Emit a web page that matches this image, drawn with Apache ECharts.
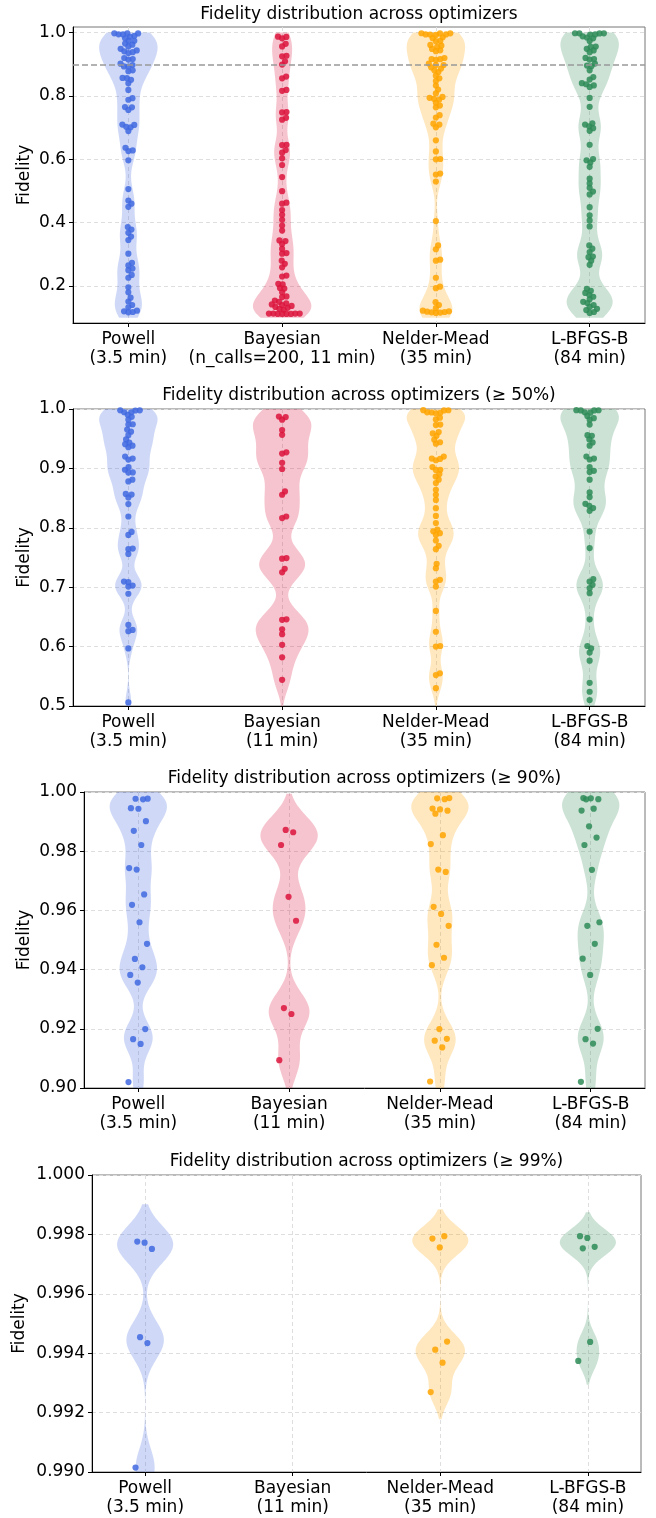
<!DOCTYPE html>
<html lang="en">
<head>
<meta charset="UTF-8">
<title>Fidelity distribution across optimizers</title>
<script src="https://cdn.jsdelivr.net/npm/echarts@6.0.0/dist/echarts.min.js"></script>
<style>
  html, body { margin: 0; padding: 0; background: #fff; }
  #chart { width: 656px; height: 1518px; }
</style>
</head>
<body>
<div id="chart"></div>
<script>
// ---- data ----
var optimizers = ['Powell', 'Bayesian', 'Nelder-Mead', 'L-BFGS-B'];
var runtimesFull = ['(3.5 min)', '(n_calls=200, 11 min)', '(35 min)', '(84 min)'];
var runtimesShort = ['(3.5 min)', '(11 min)', '(35 min)', '(84 min)'];

var powell = [
    0.99776, 0.99772, 0.99751, 0.99454, 0.99434, 0.99015, 0.9869, 0.9821, 0.9743, 0.9738, 0.9654,
    0.9619, 0.9560, 0.9487, 0.9436, 0.9408, 0.9382, 0.9356, 0.9199, 0.9165, 0.9149, 0.9020,
    0.8977, 0.8932, 0.8930, 0.881, 0.878, 0.857, 0.856, 0.851, 0.840, 0.819, 0.793, 0.788,
    0.765, 0.764, 0.756, 0.7095, 0.7085, 0.7027, 0.701, 0.689, 0.6365, 0.628, 0.626, 0.597, 0.506,
    0.470, 0.460, 0.450, 0.386, 0.378, 0.368, 0.356, 0.345, 0.302, 0.273, 0.265, 0.255, 0.250,
    0.235, 0.226, 0.196, 0.180, 0.163, 0.151, 0.140, 0.133, 0.122, 0.120, 0.118, 0.117
];
var bayesian = [
    0.9872, 0.9864, 0.9821, 0.9646, 0.9565, 0.9270, 0.9250, 0.9094,
    0.899, 0.8612, 0.8556, 0.819, 0.8163, 0.749, 0.748, 0.731, 0.725, 0.646, 0.645, 0.629,
    0.621, 0.603, 0.582, 0.544,
    0.4995, 0.463, 0.460, 0.440, 0.425, 0.409, 0.391, 0.375, 0.344, 0.342, 0.333, 0.317, 0.304,
    0.302, 0.280, 0.270, 0.259, 0.233, 0.230, 0.207, 0.205, 0.194, 0.192, 0.180, 0.167, 0.165,
    0.154, 0.150, 0.145, 0.142, 0.140, 0.137, 0.134, 0.131, 0.128, 0.125,
    0.113, 0.113, 0.112, 0.112, 0.112, 0.113, 0.112, 0.113
];
var nelderMead = [
    0.99794, 0.99786, 0.99756, 0.99439, 0.99412, 0.99368, 0.99269, 0.9854, 0.9824, 0.9738, 0.9730,
    0.9612, 0.9588, 0.9548, 0.9484, 0.9440, 0.9415, 0.9199, 0.9166, 0.9160, 0.9137, 0.9022,
    0.8977, 0.8975, 0.8904, 0.8864, 0.881, 0.8753, 0.864, 0.8556, 0.847, 0.833, 0.820, 0.808,
    0.797, 0.794, 0.791, 0.788, 0.7786, 0.7697, 0.764, 0.7393, 0.732, 0.7124, 0.7095, 0.701,
    0.660, 0.625, 0.601, 0.600, 0.555, 0.552, 0.530,
    0.405, 0.328, 0.316, 0.283, 0.280, 0.226, 0.198, 0.193, 0.149, 0.140, 0.130,
    0.122, 0.120, 0.118, 0.117, 0.116, 0.115, 0.119
];
var lbfgsb = [
    0.99794, 0.99788, 0.99758, 0.99753, 0.99438, 0.99374, 0.9884, 0.9846, 0.9821, 0.9737,
    0.9560, 0.9548, 0.9487, 0.9437, 0.9382, 0.9200, 0.9165, 0.9150, 0.9021,
    0.8960, 0.8938, 0.881, 0.8595, 0.8517, 0.8404, 0.837, 0.8332, 0.8286, 0.7937, 0.7658,
    0.7135, 0.7095, 0.704, 0.6984, 0.690, 0.646, 0.601, 0.597, 0.590, 0.5763, 0.539, 0.524, 0.510,
    0.498, 0.489, 0.449, 0.423, 0.407, 0.388, 0.328, 0.318, 0.307, 0.293, 0.291, 0.280, 0.267,
    0.191, 0.185, 0.178, 0.172, 0.166, 0.158, 0.150, 0.146, 0.140, 0.134, 0.128, 0.124, 0.118, 0.115
];
var allData = [powell, bayesian, nelderMead, lbfgsb];

// ---- panels ----
var panelTitles = [
    'Fidelity distribution across optimizers',
    'Fidelity distribution across optimizers (≥ 50%)',
    'Fidelity distribution across optimizers (≥ 90%)',
    'Fidelity distribution across optimizers (≥ 99%)'
];
var panelFilter = [0, 0.5, 0.9, 0.99];
var panelKdeLow = [0.1, 0.5, 0.9, 0.99];
var panelYMin = [0.0832, 0.5, 0.9, 0.99];
var panelYMax = [1.0177, 1.0, 1.0, 1.0];
var panelTicks = [
    [0.2, 0.4, 0.6, 0.8, 1.0],
    [0.5, 0.6, 0.7, 0.8, 0.9, 1.0],
    [0.90, 0.92, 0.94, 0.96, 0.98, 1.00],
    [0.990, 0.992, 0.994, 0.996, 0.998, 1.000]
];
var panelDecimals = [1, 1, 2, 3];
var panelRuntimes = [runtimesFull, runtimesShort, runtimesShort, runtimesShort];
var refLine = 0.9;

// styling / layout
var pointColors = ['#4169e1', '#dc143c', '#ffa500', '#2e8b57'];
var violinFills = ['rgba(65,105,225,0.25)', 'rgba(220,20,60,0.25)', 'rgba(255,165,0,0.25)', 'rgba(46,139,87,0.25)'];
var grids = [
    {left: 73, right: 11, top: 27, height: 296},
    {left: 73, right: 11, top: 409, height: 297},
    {left: 84, right: 11, top: 792, height: 296},
    {left: 92, right: 15, top: 1175, height: 297}
];
var titleY = [15, 396, 779, 1162];
var nameGaps = [40, 40, 51, 64];
var swarmPanels = [true, true, false, false];
var FONT = 'DejaVu Sans';
var HALF_WIDTH = 0.19;
var BW_ADJUST = 0.3;
var R = 3.1;
var SWARM_GAP = 4.4;

function subset(panel, ci) {
    return allData[ci].filter(function (v) { return v >= panelFilter[panel]; });
}

function kde(vals, lo, hi) {
    var n = vals.length;
    var mean = vals.reduce(function (a, b) { return a + b; }, 0) / n;
    var ss = 0;
    vals.forEach(function (v) { ss += (v - mean) * (v - mean); });
    var sd = Math.sqrt(ss / (n - 1));
    var bw = sd * Math.pow(n, -0.2) * BW_ADJUST;
    var a = Math.max(lo, Math.min.apply(null, vals) - 2 * bw);
    var b = Math.min(hi, Math.max.apply(null, vals) + 2 * bw);
    var ys = [], ds = [];
    var steps = 200;
    for (var j = 0; j <= steps; j++) {
        var y = a + (b - a) * j / steps;
        var s = 0;
        for (var k = 0; k < n; k++) {
            var z = (y - vals[k]) / bw;
            s += Math.exp(-0.5 * z * z);
        }
        ys.push(y);
        ds.push(s);
    }
    return {ys: ys, ds: ds};
}

function violinRenderer(panel) {
    return function (params, api) {
        var ci = params.dataIndex;
        var vals = subset(panel, ci);
        if (vals.length < 2) return null;
        var k = kde(vals, panelKdeLow[panel], 1.0);
        var maxd = Math.max.apply(null, k.ds);
        var right = [], left = [];
        for (var j = 0; j < k.ys.length; j++) {
            var w = HALF_WIDTH * k.ds[j] / maxd;
            right.push(api.coord([ci + w, k.ys[j]]));
            left.push(api.coord([ci - w, k.ys[j]]));
        }
        return {
            type: 'polygon',
            shape: {points: right.concat(left.reverse())},
            style: {fill: violinFills[ci]}
        };
    };
}

// beeswarm (seaborn-like) or low-discrepancy jitter, in pixel space
function layoutPoints(panel, data, api) {
    var out = [];
    var d = SWARM_GAP;
    for (var ci = 0; ci < 4; ci++) {
        var items = [];
        data.forEach(function (p, idx) {
            if (p[0] === ci) {
                var c = api.coord([ci, p[1]]);
                items.push({idx: idx, x: c[0], y: c[1], v: p[1]});
            }
        });
        items.sort(function (a, b) { return a.v - b.v; });
        var unit = api.coord([1, 0])[0] - api.coord([0, 0])[0];
        var placed = [];
        items.forEach(function (it, rank) {
            var off = 0;
            if (swarmPanels[panel]) {
                var near = placed.filter(function (q) { return Math.abs(q.y - it.y) < d; });
                var cands = [0];
                near.forEach(function (q) {
                    var dy = q.y - it.y;
                    var dx = Math.sqrt(d * d - dy * dy);
                    cands.push(q.off + dx, q.off - dx);
                });
                cands.sort(function (a, b) { return Math.abs(a) - Math.abs(b); });
                for (var c = 0; c < cands.length; c++) {
                    var ok = near.every(function (q) {
                        var dx = cands[c] - q.off, dy = q.y - it.y;
                        return dx * dx + dy * dy >= d * d - 0.01;
                    });
                    if (ok) { off = cands[c]; break; }
                }
            } else {
                off = (((rank * 0.6180339887) % 1) - 0.5) * 2 * 0.065 * unit;
            }
            it.off = off;
            placed.push(it);
            out[it.idx] = [it.x + off, it.y, ci];
        });
    }
    return out;
}

function pointRenderer(panel, data) {
    return function (params, api) {
        var ctx = params.context;
        if (!ctx.layout) ctx.layout = layoutPoints(panel, data, api);
        var p = ctx.layout[params.dataIndex];
        return {
            type: 'circle',
            shape: {cx: p[0], cy: p[1], r: R},
            style: {fill: pointColors[p[2]], opacity: 0.85}
        };
    };
}

var option = {
    backgroundColor: '#fff',
    animation: false,
    grid: [], xAxis: [], yAxis: [], series: [], graphic: []
};

for (var i = 0; i < 4; i++) {
    (function (i) {
        var g = grids[i];
        option.grid.push({
            left: g.left, right: g.right, top: g.top, height: g.height,
            show: true, borderColor: '#777', borderWidth: 1
        });
        option.xAxis.push({
            gridIndex: i, type: 'value', min: -0.36, max: 3.36,
            axisLine: {show: true, onZero: false, lineStyle: {color: '#000', width: 1}},
            axisTick: {show: true, customValues: [0, 1, 2, 3], length: 4, lineStyle: {color: '#000'}},
            axisLabel: {
                customValues: [0, 1, 2, 3],
                formatter: function (v) {
                    var k = Math.round(v);
                    return optimizers[k] + '\n' + panelRuntimes[i][k];
                },
                fontFamily: FONT, fontSize: 17, color: '#000', lineHeight: 19, margin: 7
            },
            splitLine: {show: true, lineStyle: {color: '#dedede', type: [4, 3]}}
        });
        option.yAxis.push({
            gridIndex: i, type: 'value', min: panelYMin[i], max: panelYMax[i],
            name: 'Fidelity', nameLocation: 'middle', nameGap: nameGaps[i],
            nameMoveOverlap: false,
            nameTextStyle: {fontFamily: FONT, fontSize: 17, color: '#000'},
            axisLine: {show: true, onZero: false, lineStyle: {color: '#000', width: 1}},
            axisTick: {show: true, customValues: panelTicks[i], length: 4, lineStyle: {color: '#000'}},
            axisLabel: {
                customValues: panelTicks[i],
                formatter: function (v) { return v.toFixed(panelDecimals[i]); },
                fontFamily: FONT, fontSize: 17, color: '#000', margin: 7
            },
            splitLine: {show: true, lineStyle: {color: '#dedede', type: [4, 3]}}
        });

        var violinSeries = {
            type: 'custom', xAxisIndex: i, yAxisIndex: i, clip: true, z: 2,
            renderItem: violinRenderer(i),
            data: [[0, 0.95], [1, 0.95], [2, 0.95], [3, 0.95]]
        };
        if (i === 0) {
            violinSeries.markLine = {
                silent: true, symbol: ['none', 'none'], label: {show: false},
                lineStyle: {color: '#999', type: [6, 3], width: 1.5},
                data: [{yAxis: refLine}]
            };
        }
        option.series.push(violinSeries);

        var pts = [];
        for (var ci = 0; ci < 4; ci++) {
            subset(i, ci).forEach(function (v) { pts.push([ci, v]); });
        }
        option.series.push({
            type: 'custom', xAxisIndex: i, yAxisIndex: i, clip: false, z: 3,
            renderItem: pointRenderer(i, pts),
            data: pts
        });

        option.graphic.push({
            type: 'text', x: g.left + (656 - g.left - g.right) / 2, y: titleY[i],
            style: {
                text: panelTitles[i], fontFamily: FONT, fontSize: 17, fill: '#000',
                align: 'center', verticalAlign: 'middle'
            }
        });
    })(i);
}

var chart = echarts.init(document.getElementById('chart'));
chart.setOption(option);
</script>
</body>
</html>
